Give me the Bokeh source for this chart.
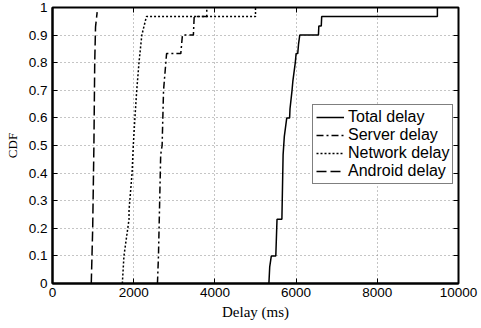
from bokeh.plotting import figure
from bokeh.models import LinearAxis, Legend, LegendItem, FixedTicker, Range1d, CustomJSTickFormatter
from bokeh.embed import file_html
from bokeh.resources import INLINE

# Data
total_x = [5330, 5350, 5390, 5500, 5530, 5650, 5680, 5710, 5770, 5840, 5850, 5900, 5920, 5980, 6000, 6040, 6060, 6090, 6550, 6560, 6620, 6630, 9480, 9480]
total_y = [0.0, 0.06, 0.1, 0.1, 0.233, 0.233, 0.467, 0.533, 0.6, 0.6, 0.633, 0.7, 0.733, 0.8, 0.833, 0.833, 0.867, 0.9, 0.9, 0.933, 0.933, 0.967, 0.967, 1.0]

server_x = [2585, 2610, 2665, 2700, 2735, 2810, 3160, 3200, 3470, 3490, 3800, 3800]
server_y = [0.0, 0.1, 0.467, 0.5, 0.7, 0.833, 0.833, 0.9, 0.9, 0.967, 0.967, 1.0]

network_x = [1720, 1760, 1885, 1885, 1960, 1990, 2030, 2075, 2130, 2200, 2313, 5000, 5000]
network_y = [0.0, 0.1, 0.233, 0.267, 0.4, 0.5, 0.6, 0.7, 0.8, 0.9, 0.967, 0.967, 1.0]

android_x = [955, 990, 1020, 1040, 1060, 1100]
android_y = [0.0, 0.2, 0.5, 0.8, 0.93, 0.983]

x_ticks = [0, 2000, 4000, 6000, 8000, 10000]
y_ticks = [0, 0.1, 0.2, 0.3, 0.4, 0.5, 0.6, 0.7, 0.8, 0.9, 1.0]
y_tick_labels = {0: "0", 0.1: "0.1", 0.2: "0.2", 0.3: "0.3", 0.4: "0.4", 0.5: "0.5",
                 0.6: "0.6", 0.7: "0.7", 0.8: "0.8", 0.9: "0.9", 1.0: "1"}

series_labels = ["Total delay", "Server delay", "Network delay", "Android delay"]

p = figure(width=480, height=326, output_backend="svg", toolbar_location=None,
           x_range=Range1d(0, 10000), y_range=Range1d(0, 1),
           min_border_left=52, min_border_right=22, min_border_top=7, min_border_bottom=43)

p.background_fill_color = "white"
p.border_fill_color = "white"
p.outline_line_color = "black"
p.outline_line_width = 2

tick_font = "Liberation Sans"
for ax in (p.xaxis[0], p.yaxis[0]):
    ax.major_label_text_font = tick_font
    ax.major_label_text_font_size = "13.5px"
    ax.major_label_text_color = "black"
    ax.axis_line_color = "black"
    ax.axis_line_width = 2
    ax.major_tick_in = 5
    ax.major_tick_out = 0
    ax.minor_tick_in = 0
    ax.minor_tick_out = 0
    ax.major_tick_line_color = "black"
    ax.axis_label_text_font = "Liberation Serif"
    ax.axis_label_text_font_style = "normal"
    ax.axis_label_text_color = "black"

p.xaxis.ticker = FixedTicker(ticks=x_ticks)
p.yaxis.ticker = FixedTicker(ticks=y_ticks)
p.yaxis.major_label_overrides = y_tick_labels
p.xaxis.axis_label = "Delay (ms)"
p.yaxis.axis_label = "CDF"
p.xaxis.axis_label_text_font_size = "15px"
p.yaxis.axis_label_text_font_size = "13px"
p.xaxis.major_label_standoff = 4
p.yaxis.major_label_standoff = 5
p.xaxis.axis_label_standoff = 4
p.yaxis.axis_label_standoff = 6

# ticks on top and right (box)
blank = CustomJSTickFormatter(code="return ''")
top = LinearAxis(ticker=FixedTicker(ticks=x_ticks), formatter=blank,
                 major_tick_in=5, major_tick_out=0, minor_tick_in=0, minor_tick_out=0,
                 axis_line_color=None, major_tick_line_color="black", major_label_standoff=0)
right = LinearAxis(ticker=FixedTicker(ticks=y_ticks), formatter=blank,
                   major_tick_in=5, major_tick_out=0, minor_tick_in=0, minor_tick_out=0,
                   axis_line_color=None, major_tick_line_color="black", major_label_standoff=0)
p.add_layout(top, "above")
p.add_layout(right, "right")

p.grid.grid_line_color = "#8a8a8a"
p.grid.grid_line_dash = "1 3"
p.grid.grid_line_width = 1
p.xgrid.ticker = FixedTicker(ticks=x_ticks)
p.ygrid.ticker = FixedTicker(ticks=y_ticks)

r1 = p.line(total_x, total_y, line_color="black", line_width=1.5)
r2 = p.line(server_x, server_y, line_color="black", line_width=1.5, line_dash="7 3 2 3")
r3 = p.line(network_x, network_y, line_color="black", line_width=1.5, line_dash="2 2")
r4 = p.line(android_x, android_y, line_color="black", line_width=1.5, line_dash="10 4")

legend = Legend(items=[LegendItem(label=series_labels[0], renderers=[r1]),
                       LegendItem(label=series_labels[1], renderers=[r2]),
                       LegendItem(label=series_labels[2], renderers=[r3]),
                       LegendItem(label=series_labels[3], renderers=[r4])],
                location=(260, 99))
legend.label_text_font = "Liberation Sans"
legend.label_text_font_size = "16px"
legend.label_text_color = "black"
legend.border_line_color = "black"
legend.border_line_width = 1.5
legend.background_fill_alpha = 1
legend.glyph_width = 28
legend.glyph_height = 18
legend.label_height = 18
legend.label_standoff = 4
legend.spacing = 0
legend.padding = 3
legend.margin = 0
p.add_layout(legend, "center")

open("out.html", "w").write(file_html(p, INLINE))
